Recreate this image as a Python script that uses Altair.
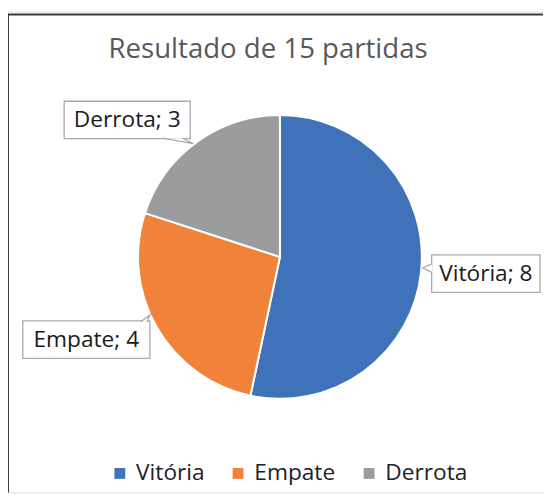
import altair as alt
import pandas as pd

# ---- data ----
categories = ["Vitória", "Empate", "Derrota"]
values = [8, 4, 3]
colors = ["#3F72B9", "#F0823A", "#9A9C9E"]
title_text = "Resultado de 15 partidas"

# ---- layout (chart pixel coords; page margin 8px) ----
W, H = 543, 488
CX, CY, R = 276, 249, 144
FONT = "Open Sans"

boxes = {  # x, x2, y, y2 of callout boxes
    "Vitória": (430, 540, 247, 285),
    "Empate": (15, 144, 314, 352),
    "Derrota": (57, 185, 91, 129),
}
tails = {  # apex point and open path (pixel units relative to apex)
    "Vitória": (421, 260, "M9.5,-4 L0,0 L9.5,5"),
    "Empate": (144, 308, "M-9,6.5 L0,0 L-3,6.5"),
    "Derrota": (188, 134, "M-31,-5.5 L0,0 L-11,-5.5"),
}

df = pd.DataFrame({"cat": categories, "value": values, "idx": range(len(categories))})
df["label"] = [f"{c}; {v}" for c, v in zip(categories, values)]

pie = alt.Chart(df).mark_arc(radius=R, stroke="white", strokeWidth=2).encode(
    theta=alt.Theta("value:Q", stack=True),
    order=alt.Order("idx:Q"),
    color=alt.Color(
        "cat:N",
        scale=alt.Scale(domain=categories, range=colors),
        legend=alt.Legend(
            title=None, orient="none", direction="horizontal",
            legendX=102, legendY=457,
            symbolType="square", symbolSize=121, symbolStrokeWidth=0,
            labelFont=FONT, labelFontSize=23, labelColor="#222222",
            labelOffset=5, columnPadding=22,
        ),
    ),
    x=alt.value(CX),
    y=alt.value(CY),
)

bdf = pd.DataFrame([
    {"cat": c, "x": b[0], "x2": b[1], "y": b[2], "y2": b[3],
     "cx": (b[0] + b[1]) / 2, "cy": (b[2] + b[3]) / 2,
     "label": df.loc[df.cat == c, "label"].iloc[0]}
    for c, b in boxes.items()
])

rects = alt.Chart(bdf).mark_rect(fill="white", stroke="#A9A9A9", strokeWidth=1.3).encode(
    x=alt.X("x:Q", scale=None, axis=None),
    x2="x2:Q",
    y=alt.Y("y:Q", scale=None, axis=None),
    y2="y2:Q",
)

tail_layers = []
for c, (ax, ay, path) in tails.items():
    tdf = pd.DataFrame({"x": [ax], "y": [ay]})
    tail_layers.append(
        alt.Chart(tdf).mark_point(
            shape=path, size=4, filled=True, fill="white", stroke="#A9A9A9",
            strokeWidth=1.3, opacity=1,
        ).encode(
            x=alt.X("x:Q", scale=None, axis=None),
            y=alt.Y("y:Q", scale=None, axis=None),
        )
    )

texts = alt.Chart(bdf).mark_text(
    font=FONT, fontSize=23, color="#1A1A1A", align="center", baseline="middle"
).encode(
    x=alt.X("cx:Q", scale=None, axis=None),
    y=alt.Y("cy:Q", scale=None, axis=None),
    text="label:N",
)

tdf_title = pd.DataFrame({"t": [title_text], "x": [264], "y": [47]})
title = alt.Chart(tdf_title).mark_text(
    font=FONT, fontSize=28, color="#595959", align="center", baseline="alphabetic"
).encode(
    x=alt.X("x:Q", scale=None, axis=None),
    y=alt.Y("y:Q", scale=None, axis=None),
    text="t:N",
)

frame_df = pd.DataFrame({"x": [0, 0], "x2": [W, 0], "y": [3, 3], "y2": [3, H]})
frame = alt.Chart(frame_df).mark_rule(color="#3A3A3A", strokeWidth=2).encode(
    x=alt.X("x:Q", scale=None, axis=None),
    x2="x2:Q",
    y=alt.Y("y:Q", scale=None, axis=None),
    y2="y2:Q",
)

chart = alt.layer(frame, title, pie, rects, *tail_layers, texts).properties(
    width=W, height=H,
    autosize=alt.AutoSizeParams(type="none"),
    padding=0,
).configure_view(stroke=None).configure(background="white")

chart.save("out.html", embed_options={"renderer": "svg", "actions": False})
